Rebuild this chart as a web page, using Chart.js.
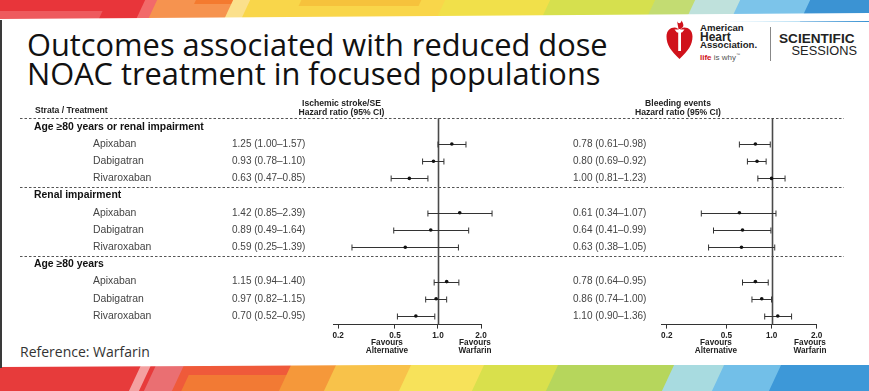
<!DOCTYPE html>
<html>
<head>
<meta charset="utf-8">
<script src="https://cdn.jsdelivr.net/npm/chart.js@4.4.1/dist/chart.umd.min.js"></script>
<style>
  html, body { margin:0; padding:0; background:#fff; }
  body { width:869px; height:391px; position:relative; overflow:hidden; font-family:"Liberation Sans", Arial, sans-serif; }
  .abs { position:absolute; }
  #topband { left:0; top:0; width:869px; height:22px; overflow:hidden; }
  #botband { left:0; top:365px; width:869px; height:26px; overflow:hidden; }
  .blk { position:absolute; transform:skewX(-25deg); }
  #title { left:27px; top:29.5px; font-family:"Open Sans", sans-serif; font-size:30.8px; line-height:29px; color:#111; white-space:nowrap; }
  #ref { left:20px; top:342px; font-family:"Open Sans", sans-serif; font-size:14px; color:#333; white-space:nowrap; }
  #edge { left:0; top:20px; width:2px; height:348px; background:#3a3a3a; }
  canvas { position:absolute; left:0; top:0; }
  .lg { position:absolute; white-space:nowrap; font-family:"Liberation Sans", Arial, sans-serif; font-weight:bold; color:#222; line-height:1; }
</style>
</head>
<body>
<div id="topband" class="abs">
  <div class="blk" style="left:-20px;top:0;width:180px;height:22px;background:#e8353a;"></div>
  <div class="blk" style="left:-10px;top:11px;width:110px;height:11px;background:#ee5a5e;"></div>
  <div class="blk" style="left:140px;top:0;width:20px;height:22px;background:#f26a6a;"></div>
  <div class="blk" style="left:152px;top:0;width:80px;height:22px;background:#f6934f;"></div>
  <div class="blk" style="left:195px;top:0;width:40px;height:4px;background:#f47a2f;"></div>
  <div class="blk" style="left:228px;top:0;width:22px;height:22px;background:#fbe08c;"></div>
  <div class="blk" style="left:245px;top:0;width:200px;height:22px;background:#f9d64a;"></div>
  <div class="blk" style="left:300px;top:0;width:120px;height:6px;background:#f6c23c;"></div>
  <div class="blk" style="left:440px;top:0;width:110px;height:22px;background:#f1e04a;"></div>
  <div class="blk" style="left:545px;top:0;width:110px;height:22px;background:#d6e04e;"></div>
  <div class="blk" style="left:650px;top:0;width:50px;height:22px;background:#c3dc72;"></div>
  <div class="blk" style="left:690px;top:0;width:50px;height:22px;background:#bfe1dc;"></div>
  <div class="blk" style="left:735px;top:0;width:80px;height:22px;background:#7cc4ea;"></div>
  <div class="blk" style="left:805px;top:0;width:90px;height:22px;background:#3b93d3;"></div>
  <div class="abs" style="left:0;top:19px;width:880px;height:8px;background:#fff;transform:rotate(-0.4deg);transform-origin:0 0;"></div>
</div>
<div id="botband" class="abs">
  <div class="blk" style="left:-20px;top:0;width:175px;height:26px;background:#e73b3b;"></div>
  <div class="blk" style="left:135px;top:0;width:10px;height:26px;background:#f4a0a0;"></div>
  <div class="blk" style="left:150px;top:0;width:30px;height:26px;background:#ea6f72;"></div>
  <div class="blk" style="left:178px;top:0;width:110px;height:26px;background:#ef5a3a;"></div>
  <div class="blk" style="left:185px;top:10px;width:110px;height:16px;background:#f27a34;"></div>
  <div class="blk" style="left:285px;top:0;width:50px;height:26px;background:#f5983a;"></div>
  <div class="blk" style="left:330px;top:0;width:80px;height:26px;background:#f8c24a;"></div>
  <div class="blk" style="left:405px;top:0;width:80px;height:26px;background:#f7e25a;"></div>
  <div class="blk" style="left:478px;top:0;width:80px;height:26px;background:#d9e04c;"></div>
  <div class="blk" style="left:552px;top:0;width:120px;height:26px;background:#b6d65c;"></div>
  <div class="blk" style="left:668px;top:0;width:55px;height:26px;background:#a8dbe0;"></div>
  <div class="blk" style="left:718px;top:0;width:60px;height:26px;background:#72bfe8;"></div>
  <div class="blk" style="left:775px;top:0;width:110px;height:26px;background:#3d98d8;"></div>
  <div class="abs" style="left:0;top:-4px;width:880px;height:6px;background:#fff;transform:rotate(-0.3deg);transform-origin:0 100%;"></div>
</div>
<div id="edge" class="abs"></div>
<div id="title" class="abs">Outcomes associated with reduced dose<br>NOAC treatment in focused populations</div>
<div id="ref" class="abs">Reference: Warfarin</div>

<!-- AHA logo -->
<svg class="abs" style="left:666px;top:20px" width="27" height="40" viewBox="0 0 27 40">
  <path d="M13.5 39 C5 31 0.5 25 0.5 16.5 C0.5 10.5 4.5 7.5 8.5 7.5 C11 7.5 12.5 9 13.5 10.5 C14.5 9 16 7.5 18.5 7.5 C22.5 7.5 26.5 10.5 26.5 16.5 C26.5 25 22 31 13.5 39 Z" fill="#d0121b"/>
  <path d="M11 1 C12 4 15 4 15.5 0.5 C17 3 18 5 17 7 L14.5 9 L12.5 9 Z" fill="#d0121b"/>
  <rect x="12.2" y="11" width="2.8" height="20" fill="#fff"/>
  <path d="M8.5 9.5 L18.5 9.5 L16 12.5 L11 12.5 Z" fill="#fff"/>
</svg>
<div class="lg" style="left:700px;top:23px;font-size:9.6px;">American</div>
<div class="lg" style="left:700px;top:30.5px;font-size:12px;">Heart</div>
<div class="lg" style="left:700px;top:40px;font-size:9.6px;">Association.</div>
<div class="abs" style="left:700px;top:53px;font-size:8px;color:#555;white-space:nowrap;line-height:1;"><span style="color:#d0121b;font-weight:bold">life</span> is why<sup style="font-size:4px">™</sup></div>
<div class="abs" style="left:770px;top:27px;width:1px;height:34px;background:#888;"></div>
<div class="lg" style="left:779px;top:31.5px;font-size:13.6px;">SCIENTIFIC</div>
<div class="abs" style="right:12px;top:45px;font-size:12.8px;color:#222;white-space:nowrap;line-height:1;">SESSIONS</div>

<canvas id="c1" width="869" height="391"></canvas>
<canvas id="c2" width="869" height="391"></canvas>

<script>
// ---------- DATA ----------
const groups = ['Age \u226580 years or renal impairment', 'Renal impairment', 'Age \u226580 years'];
const treatments = ['Apixaban', 'Dabigatran', 'Rivaroxaban'];
// Ischemic stroke/SE hazard ratios (order: group x treatment)
const strokeHR = [1.25, 0.93, 0.63, 1.42, 0.89, 0.59, 1.15, 0.97, 0.70];
const strokeLo = [1.00, 0.78, 0.47, 0.85, 0.49, 0.25, 0.94, 0.82, 0.52];
const strokeHi = [1.57, 1.10, 0.85, 2.39, 1.64, 1.39, 1.40, 1.15, 0.95];
// Bleeding events hazard ratios
const bleedHR = [0.78, 0.80, 1.00, 0.61, 0.64, 0.63, 0.78, 0.86, 1.10];
const bleedLo = [0.61, 0.69, 0.81, 0.34, 0.41, 0.38, 0.64, 0.74, 0.90];
const bleedHi = [0.98, 0.92, 1.23, 1.07, 0.99, 1.05, 0.95, 1.00, 1.36];
const xTicks = [0.2, 0.5, 1.0, 2.0];
const axisMin = 0.185, axisMax = 2.0;

// row index in the table: group header rows 0,4,8; treatments follow
const rowOf = i => Math.floor(i / 3) * 4 + 1 + (i % 3);
const fmt = (h, l, u) => h.toFixed(2) + ' (' + l.toFixed(2) + '\u2013' + u.toFixed(2) + ')';
const FONT = '"Liberation Sans", Arial, sans-serif';

const forestPlugin = {
  id: 'forest',
  beforeDatasetsDraw(chart, args, o) {
    const { ctx, chartArea, scales: { x, y } } = chart;
    ctx.save();
    // reference line at HR = 1
    const x1 = Math.round(x.getPixelForValue(1)) + 0.5;
    ctx.strokeStyle = '#4a4a4a'; ctx.lineWidth = 1.6;
    ctx.beginPath(); ctx.moveTo(x1, chartArea.top); ctx.lineTo(x1, chartArea.bottom); ctx.stroke();
    // confidence intervals
    ctx.strokeStyle = '#333'; ctx.lineWidth = 1;
    o.lo.forEach((l, i) => {
      const py = Math.round(y.getPixelForValue(rowOf(i))) + 0.5;
      const a = x.getPixelForValue(l), b = x.getPixelForValue(o.hi[i]);
      ctx.beginPath();
      ctx.moveTo(a, py); ctx.lineTo(b, py);
      ctx.moveTo(a, py - 3); ctx.lineTo(a, py + 3);
      ctx.moveTo(b, py - 3); ctx.lineTo(b, py + 3);
      ctx.stroke();
    });
    ctx.restore();
  },
  afterDraw(chart, args, o) {
    const { ctx, scales: { y } } = chart;
    ctx.save();
    ctx.textBaseline = 'middle';
    // column header
    ctx.fillStyle = '#222';
    ctx.font = 'bold 8.6px ' + FONT;
    ctx.textAlign = 'center';
    ctx.fillText(o.header, o.headerX, 103.5);
    ctx.fillText('Hazard ratio (95% CI)', o.headerX, 112.5);
    // HR text column
    ctx.textAlign = 'left';
    ctx.fillStyle = '#444';
    ctx.font = '10px ' + FONT;
    o.hr.forEach((h, i) => {
      ctx.fillText(fmt(h, o.lo[i], o.hi[i]), o.textX, y.getPixelForValue(rowOf(i)));
    });
    // favours labels
    ctx.fillStyle = '#222';
    ctx.font = 'bold 8.2px ' + FONT;
    ctx.textAlign = 'center';
    ctx.fillText('Favours', o.favL, 343);
    ctx.fillText('Alternative', o.favL, 350.5);
    ctx.fillText('Favours', o.favR, 343);
    ctx.fillText('Warfarin', o.favR, 350.5);
    if (o.table) {
      ctx.textAlign = 'left';
      ctx.font = 'bold 8.6px ' + FONT;
      ctx.fillText('Strata / Treatment', 35, 110.5);
      groups.forEach((g, gi) => {
        ctx.fillStyle = '#111';
        ctx.font = 'bold 10.4px ' + FONT;
        ctx.fillText(g, 34, y.getPixelForValue(gi * 4));
        ctx.fillStyle = '#444';
        ctx.font = '10.4px ' + FONT;
        treatments.forEach((t, ti) => ctx.fillText(t, 93, y.getPixelForValue(gi * 4 + 1 + ti)));
      });
      // dotted separators
      ctx.strokeStyle = '#555'; ctx.lineWidth = 1; ctx.setLineDash([2.5, 2]);
      [-0.5, 3.5, 7.5].forEach(r => {
        const py = Math.round(y.getPixelForValue(r)) + 0.5;
        ctx.beginPath(); ctx.moveTo(20, py); ctx.lineTo(844, py); ctx.stroke();
      });
    }
    ctx.restore();
  }
};

function makeChart(id, hr, lo, hi, cfg) {
  return new Chart(document.getElementById(id), {
    type: 'scatter',
    data: {
      datasets: [{
        data: hr.map((v, i) => ({ x: v, y: rowOf(i) })),
        pointRadius: 1.8, pointHoverRadius: 1.8,
        backgroundColor: '#111', borderColor: '#111', borderWidth: 0
      }]
    },
    options: {
      responsive: false, animation: false, devicePixelRatio: 1, events: [],
      layout: { padding: { left: cfg.left, right: 869 - cfg.right, top: 118.2, bottom: 26.4 } },
      scales: {
        x: {
          type: 'logarithmic', min: axisMin, max: axisMax,
          afterBuildTicks: s => { s.ticks = xTicks.map(v => ({ value: v })); },
          afterFit: s => { s.height = 40; },
          border: { display: true, color: '#333', width: 1 },
          grid: { display: true, drawOnChartArea: false, drawTicks: true, tickLength: 4, color: '#333' },
          ticks: { padding: 2, color: '#222', font: { family: FONT, size: 8.2, weight: 'bold' },
                   maxRotation: 0, autoSkip: false, callback: v => Number(v).toFixed(1) }
        },
        y: { type: 'linear', min: -0.5, max: 11.5, reverse: true, display: false }
      },
      plugins: {
        legend: { display: false }, tooltip: { enabled: false },
        forest: Object.assign({ hr: hr, lo: lo, hi: hi }, cfg)
      }
    },
    plugins: [forestPlugin]
  });
}

makeChart('c1', strokeHR, strokeLo, strokeHi, {
  left: 333.3, right: 481, header: 'Ischemic stroke/SE', headerX: 341.5,
  textX: 232, favL: 387, favR: 475, table: true
});
makeChart('c2', bleedHR, bleedLo, bleedHi, {
  left: 661.7, right: 816.7, header: 'Bleeding events', headerX: 678,
  textX: 573, favL: 716, favR: 810, table: false
});
</script>
</body>
</html>
